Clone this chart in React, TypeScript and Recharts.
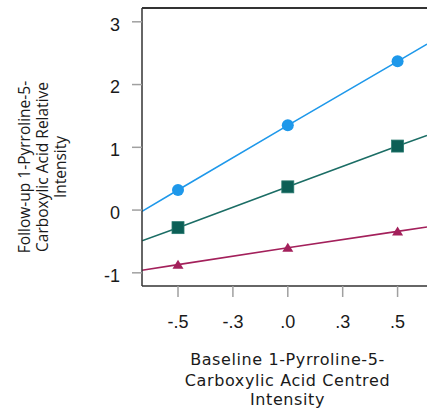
import React from 'react';
import { ComposedChart, Line, Scatter, XAxis, YAxis, ReferenceLine } from 'recharts';

// centred baseline intensity: plot edges and the three marker positions
const xFit = [-0.664, -0.5, 0, 0.5, 0.634];
const xMarks = [-0.5, 0, 0.5];
const xTicks = [-0.5, -0.25, 0, 0.25, 0.5];
const yTicks = [-1, 0, 1, 2, 3];

// fitted follow-up values along xFit, one list per group
const highFit = [-0.02, 0.32, 1.35, 2.37, 2.645];
const midFit = [-0.49, -0.28, 0.37, 1.02, 1.19];
const lowFit = [-0.96, -0.87, -0.6, -0.34, -0.27];

const xMin = -0.664;
const xMax = 0.634;
const yMin = -1.21;
const yMax = 3.22;

const BLUE = '#1e98ea';
const GREEN = '#0c5f56';
const GREEN_LINE = '#1b6d65';
const RED = '#a3205b';
const TICK_FONT = "'Liberation Sans', Arial, sans-serif";
const FRAME = { stroke: '#333', strokeWidth: 1.5 };

const toPoints = (ys: number[]) => xFit.map((x, i) => ({ x, y: ys[i] }));
const toMarks = (ys: number[]) =>
  xMarks.map((x) => ({ x, y: ys[xFit.indexOf(x)] }));

const fmtX = (v: number) => v.toFixed(1).replace('0.', '.');

const circle = (p: any) => <circle cx={p.cx} cy={p.cy} r={6} fill={BLUE} />;
const square = (p: any) => (
  <rect x={p.cx - 6} y={p.cy - 6} width={12} height={12} fill={GREEN} stroke="#2a7a70" strokeWidth={0.8} />
);
const triangle = (p: any) => (
  <path d={`M${p.cx - 5.5},${p.cy + 4} L${p.cx + 5.5},${p.cy + 4} L${p.cx},${p.cy - 5} Z`} fill={RED} />
);

const YTitle = (props: any) => {
  const vb = props.viewBox || {};
  const cy = vb.y + vb.height / 2 + 20;
  const lines = ['Follow-up 1-Pyrroline-5-', 'Carboxylic Acid Relative', 'Intensity'];
  const xs = [22, 40, 58];
  return (
    <g>
      {lines.map((t, i) => (
        <text
          key={i}
          x={xs[i]}
          y={cy}
          transform={`rotate(-90 ${xs[i]} ${cy})`}
          textAnchor="middle"
          fontFamily="'Open Sans', Lato, sans-serif"
          fontSize={15.5}
          fill="#1a1a1a"
        >
          {t}
        </text>
      ))}
    </g>
  );
};

const XTitle = (props: any) => {
  const vb = props.viewBox || {};
  const cx = vb.x + vb.width / 2 + 3;
  const lines = ['Baseline 1-Pyrroline-5-', 'Carboxylic Acid Centred', 'Intensity'];
  const ys = [365, 386, 405];
  return (
    <g>
      {lines.map((t, i) => (
        <text
          key={i}
          x={cx}
          y={ys[i]}
          textAnchor="middle"
          fontFamily="'DejaVu Sans', Verdana, sans-serif"
          fontSize={16}
          letterSpacing={0.6}
          fill="#1a1a1a"
        >
          {t}
        </text>
      ))}
    </g>
  );
};

export default function App() {
  const xTickStyle = { fontFamily: TICK_FONT, fontSize: 18, fill: '#1a1a1a' };
  const yTickStyle = { ...xTickStyle, dy: 2.5 };
  return (
    <div style={{ position: 'absolute', left: 8, top: 0, width: 419, height: 413 }}>
      <ComposedChart width={419} height={413} margin={{ top: 8, right: 0, bottom: 0, left: 0 }}>
        <XAxis
          type="number"
          dataKey="x"
          domain={[xMin, xMax]}
          ticks={xTicks}
          tickFormatter={fmtX}
          allowDataOverflow
          height={127}
          tickSize={11}
          tickMargin={18}
          tick={xTickStyle}
          tickLine={{ stroke: '#a0a0a0', strokeWidth: 1.5 }}
          axisLine={FRAME}
          label={<XTitle />}
        />
        <YAxis
          type="number"
          dataKey="y"
          domain={[yMin, yMax]}
          ticks={yTicks}
          allowDataOverflow
          width={134}
          tickSize={10}
          tickMargin={12}
          tick={yTickStyle}
          tickLine={{ stroke: '#a0a0a0', strokeWidth: 1.5 }}
          axisLine={FRAME}
          label={<YTitle />}
        />
        {/* top edge of the frame */}
        <ReferenceLine y={yMax} stroke="#333" strokeWidth={1.8} ifOverflow="visible" />
        <Line data={toPoints(highFit)} dataKey="y" type="linear" stroke={BLUE} strokeWidth={1.6} dot={false} activeDot={false} isAnimationActive={false} />
        <Line data={toPoints(midFit)} dataKey="y" type="linear" stroke={GREEN_LINE} strokeWidth={1.6} dot={false} activeDot={false} isAnimationActive={false} />
        <Line data={toPoints(lowFit)} dataKey="y" type="linear" stroke={RED} strokeWidth={1.6} dot={false} activeDot={false} isAnimationActive={false} />
        <Scatter data={toMarks(highFit)} dataKey="y" shape={circle} isAnimationActive={false} />
        <Scatter data={toMarks(midFit)} dataKey="y" shape={square} isAnimationActive={false} />
        <Scatter data={toMarks(lowFit)} dataKey="y" shape={triangle} isAnimationActive={false} />
      </ComposedChart>
    </div>
  );
}
